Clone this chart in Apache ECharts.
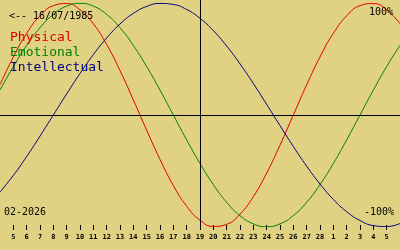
<!DOCTYPE html>
<html>
<head>
<meta charset="utf-8">
<script src="https://cdn.jsdelivr.net/npm/echarts@6/dist/echarts.min.js"></script>
<style>
html,body{margin:0;padding:0;background:#E0D282;}
#c{width:400px;height:250px;}
</style>
</head>
<body>
<div id="c"></div>
<script>
// Day labels for each day shown (Feb 4 2026 .. Mar 6 2026)
const dayLabels = ['4','5','6','7','8','9','10','11','12','13','14','15','16','17','18','19','20','21','22','23','24','25','26','27','28','1','2','3','4','5','6'];
// Daily biorhythm values (-1 .. 1)
const physical = [0.270,0.520,0.731,0.888,0.979,0.998,0.942,0.817,0.631,0.398,0.136,-0.136,-0.398,-0.631,-0.817,-0.942,-0.998,-0.979,-0.888,-0.731,-0.520,-0.270,0,0.270,0.520,0.731,0.888,0.979,0.998,0.942,0.817];
const emotional = [0.223,0.434,0.623,0.782,0.901,0.975,1,0.975,0.901,0.782,0.623,0.434,0.223,0,-0.223,-0.434,-0.623,-0.782,-0.901,-0.975,-1,-0.975,-0.901,-0.782,-0.623,-0.434,-0.223,0,0.223,0.434,0.623];
const intellectual = [-0.690,-0.541,-0.372,-0.189,0,0.189,0.372,0.541,0.690,0.815,0.910,0.972,0.999,0.990,0.945,0.866,0.756,0.618,0.458,0.282,0.095,-0.095,-0.282,-0.458,-0.618,-0.756,-0.866,-0.945,-0.990,-0.999,-0.972];
const seriesNames = ['Physical','Emotional','Intellectual'];
const todayIndex = 15;
const tickIdx = dayLabels.map((d,i)=>i).filter(i=>i>0 && i<dayLabels.length-1);

const colors = ['#E00000','#008000','#000080'];
const mono = 'DejaVu Sans Mono';
const chart = echarts.init(document.getElementById('c'), null, {renderer:'canvas'});
const mk = (arr)=>arr.map((v,i)=>[i,v]);
chart.setOption({
  animation:false,
  backgroundColor:'#E0D282',
  grid:{left:0,right:0,top:0,bottom:20,containLabel:false},
  xAxis:{type:'value',min:0,max:dayLabels.length-1,position:'bottom',
    axisLine:{show:false,onZero:false},
    splitLine:{show:false},
    axisTick:{show:true,inside:true,length:5,customValues:tickIdx,lineStyle:{color:'#000',width:1}},
    axisLabel:{show:true,customValues:tickIdx,margin:4,formatter:v=>dayLabels[v],
      color:'#000',fontFamily:mono,fontSize:7,fontWeight:'bold'}},
  yAxis:{type:'value',min:-1.03,max:1.03,show:false},
  title:[
    {text:'<-- 16/07/1985',left:9,top:11,padding:0,textStyle:{fontFamily:mono,fontSize:10,fontWeight:'normal',color:'#000'}},
    {text:'100%',right:7,top:7,padding:0,textStyle:{fontFamily:mono,fontSize:10,fontWeight:'normal',color:'#000'}},
    {text:'-100%',right:6,top:207,padding:0,textStyle:{fontFamily:mono,fontSize:10,fontWeight:'normal',color:'#000'}},
    {text:'02-2026',left:4,top:207,padding:0,textStyle:{fontFamily:mono,fontSize:10,fontWeight:'normal',color:'#000'}}
  ],
  legend:{orient:'vertical',left:5,top:31,itemGap:2,itemWidth:0,itemHeight:13,icon:'none',padding:0,
    data:seriesNames.map((n,i)=>({name:n,textStyle:{color:colors[i]}})),
    textStyle:{fontFamily:mono,fontSize:13}},
  series:[
    {name:seriesNames[0],type:'line',data:mk(physical),smooth:true,showSymbol:false,lineStyle:{width:1,color:colors[0]},itemStyle:{color:colors[0]},
      markLine:{silent:true,symbol:'none',label:{show:false},lineStyle:{color:'#000',width:1,type:'solid'},
        data:[{xAxis:todayIndex},{yAxis:0}]}},
    {name:seriesNames[1],type:'line',data:mk(emotional),smooth:true,showSymbol:false,lineStyle:{width:1,color:colors[1]},itemStyle:{color:colors[1]}},
    {name:seriesNames[2],type:'line',data:mk(intellectual),smooth:true,showSymbol:false,lineStyle:{width:1,color:colors[2]},itemStyle:{color:colors[2]}}
  ]
});
</script>
</body>
</html>
